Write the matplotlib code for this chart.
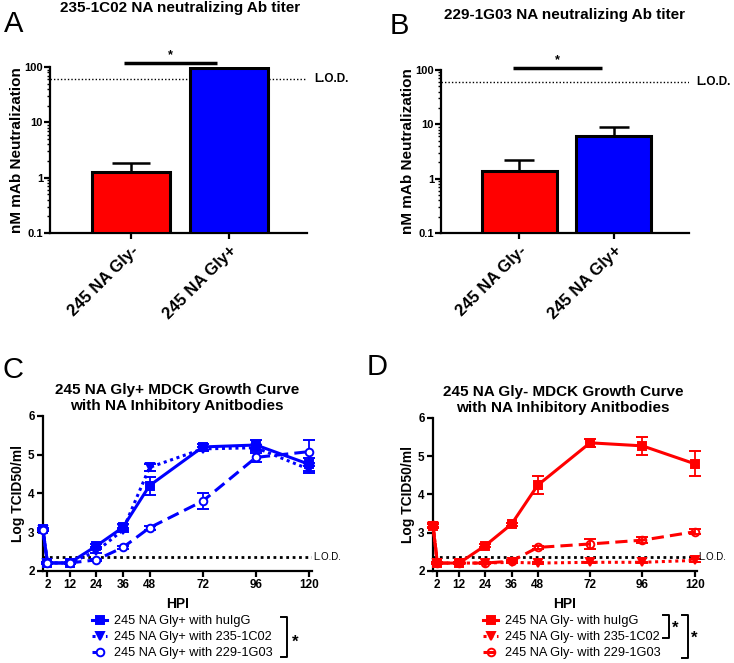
import matplotlib
matplotlib.use("Agg")
import matplotlib.pyplot as plt
from matplotlib.lines import Line2D
from matplotlib.ticker import LogLocator, NullFormatter

plt.rcParams['font.family'] = ['Liberation Sans', 'DejaVu Sans']
plt.rcParams['axes.linewidth'] = 1.6

# bar panels
groups = ["245 NA Gly-", "245 NA Gly+"]
bar_colors = ["#ff0000", "#0000ff"]
a_vals = [1.25, 94]
a_err = [0.57, 0]
b_vals = [1.4, 6.1]
b_err = [0.84, 2.7]
lod_bar = 60

# growth curves
hours = [0, 2, 12, 24, 36, 48, 72, 96, 120]
hour_ticks = [2, 12, 24, 36, 48, 72, 96, 120]
lod_curve = 2.36

c_huigg = [3.07, 2.2, 2.2, 2.64, 3.12, 4.2, 5.2, 5.25, 4.75]
c_huigg_err = [0.03, 0.02, 0.02, 0.04, 0.08, 0.23, 0.07, 0.13, 0.16]
c_1c02 = [3.05, 2.2, 2.2, 2.5, 3.05, 4.67, 5.15, 5.18, 4.62]
c_1c02_err = [0.03, 0.02, 0.02, 0.05, 0.06, 0.1, 0.05, 0.08, 0.1]
c_1g03 = [3.05, 2.2, 2.2, 2.28, 2.6, 3.11, 3.8, 4.93, 5.08]
c_1g03_err = [0.03, 0.02, 0.02, 0.03, 0.03, 0.05, 0.2, 0.12, 0.3]

d_huigg = [3.18, 2.2, 2.2, 2.66, 3.22, 4.24, 5.35, 5.27, 4.8]
d_huigg_err = [0.05, 0.02, 0.02, 0.04, 0.04, 0.24, 0.1, 0.24, 0.33]
d_1c02 = [3.18, 2.2, 2.2, 2.2, 2.22, 2.2, 2.22, 2.22, 2.27]
d_1c02_err = [0.05, 0.02, 0.02, 0.02, 0.02, 0.02, 0.02, 0.02, 0.03]
d_1g03 = [3.2, 2.2, 2.2, 2.2, 2.25, 2.61, 2.7, 2.8, 3.02]
d_1g03_err = [0.05, 0.02, 0.02, 0.02, 0.03, 0.03, 0.12, 0.08, 0.06]

W, H = 734, 663
fig = plt.figure(figsize=(W / 100, H / 100), dpi=100)


def box(l, t, r, b):
    return [l / W, 1 - b / H, (r - l) / W, (b - t) / H]


def bar_panel(rect, vals, errs, title, title_xy, caps, sig):
    ax = fig.add_axes(rect)
    x = [0, 1]
    ax.bar(x, [v - 0.1 for v in vals], bottom=0.1, width=0.8, color=bar_colors,
           edgecolor="black", linewidth=2.2, zorder=3)
    for xi, v, e, c in zip(x, vals, errs, caps):
        if e > 0:
            ax.errorbar(xi, v, yerr=[[0], [e]], fmt="none", ecolor="black",
                        elinewidth=1.8, capsize=c, capthick=1.8, zorder=2)
    ax.set_yscale("log")
    ax.set_ylim(0.1, 100)
    ax.set_xlim(-0.83, 1.8)
    ax.set_yticks([0.1, 1, 10, 100])
    ax.set_yticklabels(["0.1", "1", "10", "100"], fontweight="bold", fontsize=8)
    ax.yaxis.set_minor_locator(LogLocator(base=10, subs=range(2, 10)))
    ax.yaxis.set_minor_formatter(NullFormatter())
    ax.set_xticks(x)
    ax.set_xticklabels(groups, rotation=45, ha="right", rotation_mode="anchor",
                       fontweight="bold", fontsize=12)
    ax.tick_params(axis="both", which="major", direction="out", length=4, width=1.6, pad=1)
    ax.tick_params(axis="x", which="major", pad=3)
    ax.tick_params(axis="y", which="minor", direction="out", length=2.5, width=1.0)
    ax.spines["top"].set_visible(False)
    ax.spines["right"].set_visible(False)
    ax.set_ylabel("nM mAb Neutralization", fontweight="bold", fontsize=11, labelpad=0)
    ax.axhline(lod_bar, color="black", linestyle=(0, (1, 1.5)), linewidth=1.0, zorder=1)
    ax.text(1.03, lod_bar, "L.O.D.", transform=ax.get_yaxis_transform(), fontsize=8.5,
            fontweight="bold", va="center", ha="left")
    ax.plot([sig[0], sig[1]], [sig[2], sig[2]], color="black", linewidth=2.5,
            clip_on=False, solid_capstyle="butt")
    ax.text((sig[0] + sig[1]) / 2, sig[2] * 1.08, "*", ha="center", va="bottom",
            fontsize=9, fontweight="bold")
    fig.text(title_xy[0] / W, 1 - title_xy[1] / H, title, ha="center", va="center",
             fontsize=11, fontweight="bold")
    return ax


bar_panel(box(50, 67, 307, 233), a_vals, a_err, "235-1C02 NA neutralizing Ab titer",
          (180, 8), [14, 0], (-0.07, 0.88, 116))
bar_panel(box(441, 70, 689, 233), b_vals, b_err, "229-1G03 NA neutralizing Ab titer",
          (564, 15), [11, 11], (-0.07, 0.88, 110))


def curve_panel(rect, color, series, title, title_xy, labels, circle_face):
    ax = fig.add_axes(rect)
    styles = [("s", "-", color), ("v", (0, (1, 1.2)), color), ("o", (0, (4, 2)), circle_face)]
    handles = []
    for (vals, errs), (mk, ls, face), lab in zip(series, styles, labels):
        ax.errorbar(hours, vals, yerr=errs, color=color, marker=mk, linestyle=ls,
                    linewidth=2.2, markersize=5.5, markerfacecolor=face,
                    markeredgecolor=color, markeredgewidth=1.4, elinewidth=1.3,
                    capsize=4, capthick=1.3, clip_on=False, zorder=3)
        handles.append(Line2D([], [], color=color, marker=mk, linestyle=ls, linewidth=2.2,
                              markersize=5.5, markerfacecolor=face, markeredgecolor=color,
                              markeredgewidth=1.4, label=lab))
    ax.axhline(lod_curve, color="black", linestyle=(0, (1, 1.3)), linewidth=2.0, zorder=1)
    ax.text(1.005, lod_curve, "L.O.D.", transform=ax.get_yaxis_transform(), fontsize=7,
            va="center", ha="left")
    ax.set_xlim(0, 121)
    ax.set_ylim(2, 6)
    ax.set_xticks(hour_ticks)
    ax.set_xticklabels([str(h) for h in hour_ticks], fontweight="bold", fontsize=8.5)
    ax.set_yticks([2, 3, 4, 5, 6])
    ax.set_yticklabels(["2", "3", "4", "5", "6"], fontweight="bold", fontsize=8.5)
    ax.tick_params(axis="both", direction="out", length=4, width=1.6, pad=2)
    ax.spines["top"].set_visible(False)
    ax.spines["right"].set_visible(False)
    ax.set_xlabel("HPI", fontweight="bold", fontsize=10, labelpad=4)
    ax.set_ylabel("Log TCID50/ml", fontweight="bold", fontsize=10, labelpad=2)
    fig.text(title_xy[0] / W, 1 - title_xy[1] / H, title, ha="center", va="center",
             fontsize=11, fontweight="bold", linespacing=1.15)
    return ax, handles


axc, hc = curve_panel(box(43, 416, 311.5, 570.7), "#0000ff",
                      [(c_huigg, c_huigg_err), (c_1c02, c_1c02_err), (c_1g03, c_1g03_err)],
                      "245 NA Gly+ MDCK Growth Curve\nwith NA Inhibitory Anitbodies", (177, 398),
                      ["245 NA Gly+ with huIgG", "245 NA Gly+ with 235-1C02",
                       "245 NA Gly+ with 229-1G03"], "white")
axd, hd = curve_panel(box(433, 418, 697, 570.7), "#ff0000",
                      [(d_huigg, d_huigg_err), (d_1c02, d_1c02_err), (d_1g03, d_1g03_err)],
                      "245 NA Gly- MDCK Growth Curve\nwith NA Inhibitory Anitbodies", (563, 400),
                      ["245 NA Gly- with huIgG", "245 NA Gly- with 235-1C02",
                       "245 NA Gly- with 229-1G03"], "none")

for ax, h, lx in [(axc, hc, 92), (axd, hd, 483)]:
    ax.legend(handles=h, loc="upper left", bbox_to_anchor=(lx / W, 1 - 615 / H),
              bbox_transform=fig.transFigure, frameon=False, fontsize=9.2,
              handlelength=1.2, handletextpad=0.5, labelspacing=0.32,
              borderpad=0, borderaxespad=0, numpoints=1)


def bracket(x, y0, y1, star_xy):
    fx = lambda v: v / W
    fy = lambda v: 1 - v / H
    fig.add_artist(Line2D([fx(x - 6), fx(x), fx(x), fx(x - 6)],
                          [fy(y0), fy(y0), fy(y1), fy(y1)], color="black", linewidth=1.4))
    fig.text(fx(star_xy[0]), fy(star_xy[1]), "*", ha="center", va="center",
             fontsize=12, fontweight="bold")


bracket(287, 617, 657, (295, 642))
bracket(669, 615, 638, (675, 628))
bracket(688, 615, 658, (694, 638))

for letter, x, y in [("A", 4, 24), ("B", 390, 26), ("C", 3, 370), ("D", 367, 367)]:
    fig.text(x / W, 1 - y / H, letter, fontsize=21, ha="left", va="center")

fig.savefig("out.png", dpi=100)
